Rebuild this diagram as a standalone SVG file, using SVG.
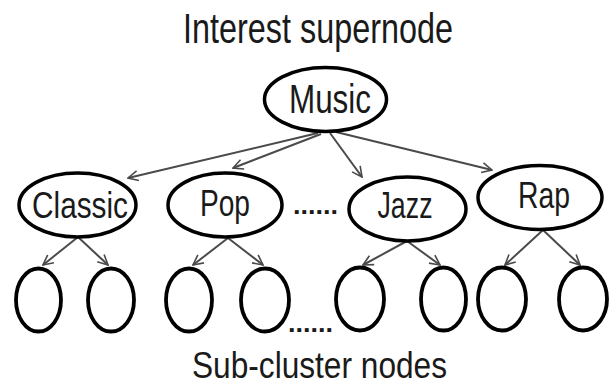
<svg xmlns="http://www.w3.org/2000/svg" width="614" height="387" viewBox="0 0 614 387">
<style>
.n{fill:#fff;stroke:#000;stroke-width:3.5}
.s{fill:#fff;stroke:#000;stroke-width:3.8}
.t{font-family:"Liberation Sans",Arial,sans-serif;fill:#1a1a1a;text-anchor:middle}
.d{font-family:"Liberation Sans",Arial,sans-serif;fill:#1a1a1a;text-anchor:middle;font-weight:bold}
.e{stroke:#4a4a4a;stroke-width:2;fill:none;marker-end:url(#ah)}
</style>
<defs>
<marker id="ah" viewBox="0 0 12 12" refX="11" refY="6" markerWidth="12" markerHeight="12" markerUnits="userSpaceOnUse" orient="auto">
<path d="M1,1 L11,6 L1,11" fill="none" stroke="#4a4a4a" stroke-width="1.6"/>
</marker>
</defs>
<rect width="614" height="387" fill="#fff"/>
<text class="t" x="318" y="43" font-size="42" textLength="270" lengthAdjust="spacingAndGlyphs">Interest supernode</text>
<g id="connectors">
<line class="e" x1="318" y1="133" x2="128" y2="178"/>
<line class="e" x1="321" y1="134" x2="233" y2="168"/>
<line class="e" x1="330" y1="133" x2="362" y2="177"/>
<line class="e" x1="336" y1="132" x2="492" y2="170"/>
<line class="e" x1="78" y1="237" x2="43" y2="265"/>
<line class="e" x1="78" y1="237" x2="108" y2="265"/>
<line class="e" x1="228" y1="238" x2="193" y2="265"/>
<line class="e" x1="228" y1="238" x2="263" y2="265"/>
<line class="e" x1="407" y1="241" x2="363" y2="265"/>
<line class="e" x1="407" y1="241" x2="440" y2="265"/>
<line class="e" x1="543" y1="230" x2="505" y2="265"/>
<line class="e" x1="543" y1="230" x2="580" y2="265"/>
</g>
<g id="music">
<ellipse class="n" cx="325.5" cy="99.5" rx="61" ry="32"/>
<text class="t" x="330" y="113" font-size="40" textLength="82" lengthAdjust="spacingAndGlyphs">Music</text>
</g>
<g id="classic">
<ellipse class="n" cx="77.5" cy="205" rx="58.5" ry="32"/>
<text class="t" x="80" y="218" font-size="37" textLength="96" lengthAdjust="spacingAndGlyphs">Classic</text>
</g>
<g id="pop">
<ellipse class="n" cx="225" cy="205" rx="57" ry="32"/>
<text class="t" x="225" y="216" font-size="37" textLength="50" lengthAdjust="spacingAndGlyphs">Pop</text>
</g>
<g id="jazz">
<ellipse class="n" cx="407.5" cy="209" rx="58.5" ry="32"/>
<text class="t" x="405" y="218" font-size="37" textLength="55" lengthAdjust="spacingAndGlyphs">Jazz</text>
</g>
<g id="rap">
<ellipse class="n" cx="540" cy="197.5" rx="62" ry="32"/>
<text class="t" x="544" y="208" font-size="37" textLength="52" lengthAdjust="spacingAndGlyphs">Rap</text>
</g>
<text class="d" x="315.5" y="214" font-size="26" textLength="45" lengthAdjust="spacingAndGlyphs">......</text>
<g id="sub1"><ellipse class="s" cx="38.5" cy="300" rx="22.5" ry="31.5"/></g>
<g id="sub2"><ellipse class="s" cx="111" cy="300" rx="23" ry="31.5"/></g>
<g id="sub3"><ellipse class="s" cx="189" cy="300" rx="23" ry="31.5"/></g>
<g id="sub4"><ellipse class="s" cx="265" cy="300" rx="24" ry="31.5"/></g>
<g id="sub5"><ellipse class="s" cx="360" cy="299" rx="24" ry="31.5"/></g>
<g id="sub6"><ellipse class="s" cx="443.5" cy="299" rx="22.5" ry="31.5"/></g>
<g id="sub7"><ellipse class="s" cx="502" cy="299" rx="24" ry="31.5"/></g>
<g id="sub8"><ellipse class="s" cx="583" cy="299" rx="24" ry="31.5"/></g>
<text class="d" x="310.5" y="332" font-size="26" textLength="45" lengthAdjust="spacingAndGlyphs">......</text>
<text class="t" x="319.5" y="378" font-size="37" textLength="255" lengthAdjust="spacingAndGlyphs">Sub-cluster nodes</text>
</svg>
